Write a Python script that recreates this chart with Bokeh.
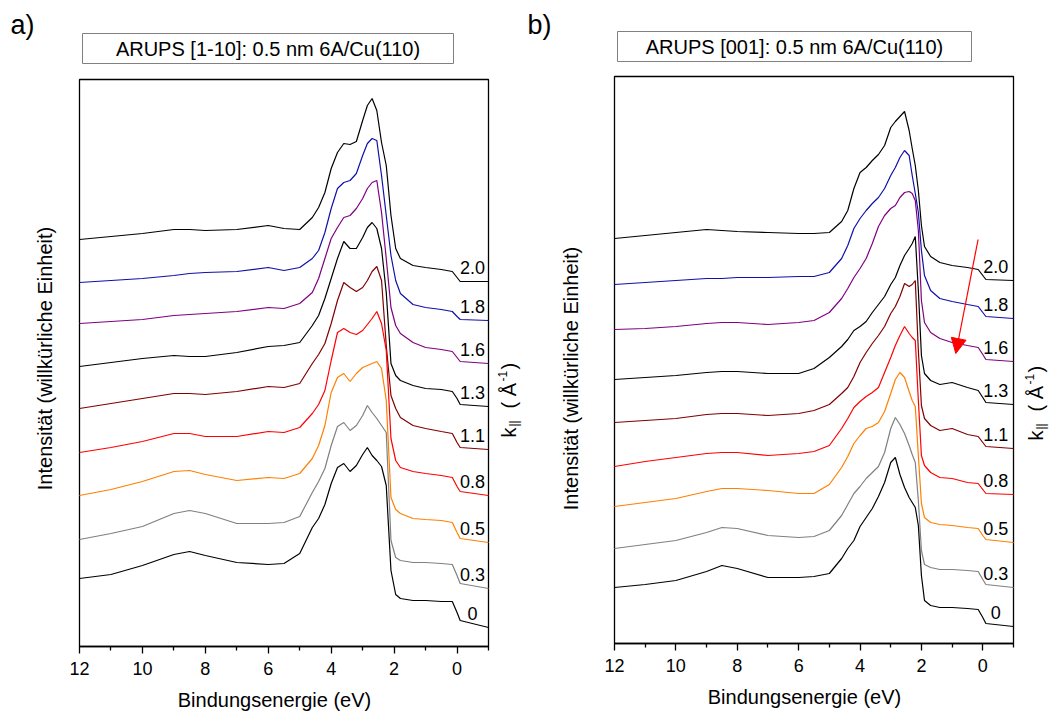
import math
from bokeh.plotting import figure
from bokeh.models import Range1d, FixedTicker, LinearAxis, Arrow, NormalHead
from bokeh.embed import file_html
from bokeh.resources import INLINE
from bokeh.core.properties import value

FONT = "Liberation Sans"

# k_parallel values (labels of the stacked spectra, top to bottom)
K_LABELS = ["2.0", "1.8", "1.6", "1.3", "1.1", "0.8", "0.5", "0.3", "0"]
COLORS = ["#000000", "#1010a8", "#800080", "#000000", "#800000",
          "#ff0000", "#ff8000", "#808080", "#000000"]

# ---------------- panel a) ARUPS [1-10] ----------------
E_A = [12, 11, 10, 9, 8.5, 8, 7, 6, 5.5, 5.0, 4.6, 4.4, 4.2, 4.0, 3.8, 3.6, 3.4,
       3.2, 3.0, 2.85, 2.7, 2.55, 2.4, 2.25, 2.1, 1.95, 1.8, 1.4, 1.0, 0.5, 0.15,
       0.0, -0.1, -1.0]
A_20 = [407, 410, 413, 417, 417, 416, 417, 421, 418, 417, 429, 439, 454, 478, 494, 503, 502,
        505, 526, 541, 548, 536, 504, 481, 431, 398, 388, 381, 379, 377, 375, 369, 365, 365]
A_18 = [364, 366, 368, 371, 373, 374, 375, 379, 376, 379, 388, 396, 414, 438, 458, 464, 466,
        473, 491, 503, 508, 506, 471, 431, 391, 366, 353, 342, 339, 337, 335, 330, 327, 326]
A_16 = [323, 325, 327, 331, 332, 333, 335, 339, 338, 343, 354, 368, 388, 408, 419, 429, 431,
        438, 448, 458, 464, 466, 434, 388, 339, 321, 313, 304, 299, 297, 295, 289, 285, 283]
A_13 = [280, 284, 288, 291, 290, 290, 294, 300, 301, 304, 321, 331, 348, 368, 388, 405, 398,
        398, 409, 419, 424, 418, 398, 354, 283, 271, 266, 261, 258, 257, 255, 248, 242, 240]
A_11 = [238, 243, 248, 253, 253, 252, 255, 260, 259, 263, 283, 292, 303, 323, 346, 364, 359,
        355, 359, 366, 375, 380, 366, 301, 251, 238, 229, 221, 218, 215, 213, 204, 199, 197]
A_08 = [194, 199, 205, 213, 213, 210, 210, 215, 214, 219, 233, 242, 256, 286, 314, 318, 314,
        312, 316, 322, 328, 335, 323, 296, 208, 186, 179, 175, 173, 171, 169, 160, 155, 151]
A_05 = [151, 157, 165, 175, 176, 172, 166, 169, 168, 173, 188, 201, 221, 254, 269, 273, 265,
        273, 279, 281, 283, 285, 278, 246, 149, 137, 133, 128, 127, 126, 124, 114, 108, 104]
A_03 = [107, 113, 120, 133, 136, 133, 123, 123, 124, 130, 154, 165, 178, 201, 220, 224, 216,
        221, 231, 241, 234, 228, 221, 214, 106, 89, 86, 84, 84, 83, 82, 71, 63, 58]
A_00 = [68, 72, 81, 92, 95, 91, 84, 82, 83, 93, 119, 128, 142, 163, 179, 183, 175,
        181, 192, 199, 191, 186, 180, 161, 76, 52, 48, 46, 46, 45, 45, 34, 26, 19]

# ---------------- panel b) ARUPS [001] ----------------
E_B = [12, 11, 10, 9, 8.5, 8, 7, 6, 5.5, 5.0, 4.6, 4.4, 4.2, 4.0, 3.8, 3.6, 3.4, 3.2,
       3.0, 2.85, 2.7, 2.55, 2.4, 2.3, 2.2, 2.1, 2.0, 1.9, 1.7, 1.4, 1.0, 0.5, 0.15,
       0.0, -0.1, -1.0]
B_20 = [405, 408, 411, 414, 413, 412, 411, 410, 410, 411, 422, 433, 455, 471, 476, 483, 489, 498,
        516, 522, 527, 532, 513, 495, 478, 453, 418, 397, 387, 381, 378, 376, 374, 368, 364, 363]
B_18 = [359, 361, 363, 365, 365, 366, 366, 367, 367, 371, 385, 398, 415, 425, 433, 440, 446, 455,
        468, 476, 486, 493, 488, 468, 450, 431, 393, 368, 353, 345, 342, 339, 337, 331, 327, 325]
B_16 = [314, 315, 317, 320, 321, 321, 319, 321, 323, 331, 345, 355, 366, 375, 385, 400, 417, 428,
        435, 438, 446, 451, 452, 450, 443, 413, 343, 321, 311, 305, 301, 298, 296, 289, 284, 282]
B_13 = [264, 266, 268, 271, 272, 272, 270, 270, 275, 286, 297, 304, 313, 317, 322, 331, 339, 347,
        359, 366, 378, 388, 395, 400, 407, 353, 288, 270, 263, 259, 261, 256, 253, 246, 241, 239]
B_11 = [221, 223, 225, 229, 230, 230, 228, 230, 233, 239, 250, 256, 267, 281, 291, 300, 308, 317,
        330, 337, 347, 360, 357, 359, 363, 293, 238, 225, 218, 213, 215, 209, 207, 201, 197, 195]
B_08 = [177, 182, 186, 190, 191, 191, 188, 190, 192, 198, 215, 225, 236, 242, 247, 251, 256, 271,
        286, 298, 308, 317, 310, 306, 303, 243, 188, 178, 171, 166, 165, 161, 160, 154, 150, 149]
B_05 = [137, 141, 145, 152, 155, 155, 153, 150, 150, 159, 176, 187, 200, 208, 215, 217, 221, 232,
        250, 264, 271, 266, 252, 243, 237, 188, 140, 126, 121, 119, 118, 116, 115, 108, 104, 101]
B_03 = [95, 99, 103, 111, 116, 115, 108, 106, 107, 113, 128, 139, 150, 157, 165, 171, 177, 191,
        215, 226, 219, 210, 198, 189, 181, 143, 93, 79, 76, 74, 74, 73, 72, 64, 59, 56]
B_00 = [56, 59, 63, 72, 78, 75, 66, 66, 67, 70, 85, 95, 103, 117, 126, 135, 147, 161,
        181, 186, 169, 156, 146, 141, 136, 118, 68, 43, 38, 36, 36, 35, 34, 26, 20, 17]

SERIES_A = [A_20, A_18, A_16, A_13, A_11, A_08, A_05, A_03, A_00]
SERIES_B = [B_20, B_18, B_16, B_13, B_11, B_08, B_05, B_03, B_00]

TITLE_A = "ARUPS [1-10]: 0.5 nm 6A/Cu(110)"
TITLE_B = "ARUPS [001]: 0.5 nm 6A/Cu(110)"
YLABEL = "Intensität (willkürliche Einheit)"
XLABEL = "Bindungsenergie (eV)"

E_MAX, E_MIN = 12, -1
I_MAX = 567

# ---------------- canvas / layout (pixels) ----------------
W, H = 1050, 712
# panel frames: left, right, top, bottom (canvas pixels)
FRAME_A = (79, 488, 79, 646)
FRAME_B = (614, 1013, 76, 643)


def energy_range(frame):
    left, right, top, bottom = frame
    s = (right - left) / (E_MAX - E_MIN)
    return Range1d(E_MAX + left / s, E_MAX - (W - left) / s)


def intensity_range(frame):
    left, right, top, bottom = frame
    s = (bottom - top) / I_MAX
    return Range1d(-(H - bottom) / s, bottom / s)


p = figure(width=W, height=H, x_range=Range1d(0, W), y_range=Range1d(H, 0),
           output_backend="svg", toolbar_location=None, title=None,
           x_axis_location=None, y_axis_location=None,
           min_border=0, min_border_left=0, min_border_right=0,
           min_border_top=0, min_border_bottom=0)
p.outline_line_color = None
p.background_fill_color = "white"
p.border_fill_color = "white"
p.xgrid.visible = False
p.ygrid.visible = False
p.extra_x_ranges = {"a": energy_range(FRAME_A), "b": energy_range(FRAME_B)}
p.extra_y_ranges = {"ya": intensity_range(FRAME_A), "yb": intensity_range(FRAME_B)}


def txt(x, y, text, size, align="center", angle=0.0):
    p.text(x=[x], y=[y], text=[text], text_font=value(FONT),
           text_font_size=f"{size}px", text_color="black",
           text_align=align, text_baseline="middle", angle=angle)


def k_label(xm, ys):
    # rotated label "k|| ( Å-1)" with sub-/superscript pieces; xm = middle line
    up = math.pi / 2
    txt(xm, ys, "k", 20, "left", up)
    txt(xm + 5, ys - 11, "||", 12, "left", up)
    txt(xm, ys - 29, "( Å", 20, "left", up)
    txt(xm - 6, ys - 56, "-1", 12, "left", up)
    txt(xm, ys - 68, ")", 20, "left", up)


def panel(E, series, xr, yr, label_x):
    # frame
    p.quad(left=[E_MIN], right=[E_MAX], bottom=[0], top=[I_MAX],
           fill_color=None, line_color="black", line_width=1.3,
           x_range_name=xr, y_range_name=yr)
    # spectra
    for vals, col in zip(series, COLORS):
        p.line(E, vals, line_color=col, line_width=1.2,
               x_range_name=xr, y_range_name=yr)
    # k labels
    ends = [vals[-1] + 14 for vals in series]
    p.text(x=[label_x] * len(K_LABELS), y=ends, text=K_LABELS,
           text_font=value(FONT), text_font_size="18px", text_color="black",
           text_align="center", text_baseline="middle",
           x_range_name=xr, y_range_name=yr)
    # x axis
    ax = LinearAxis(x_range_name=xr, y_range_name=yr, fixed_location=0,
                    bounds=(E_MIN, E_MAX),
                    ticker=FixedTicker(ticks=[12, 10, 8, 6, 4, 2, 0],
                                       minor_ticks=[11, 9, 7, 5, 3, 1, -1]))
    ax.major_label_text_font = FONT
    ax.major_label_text_font_size = "18px"
    ax.major_label_text_color = "black"
    ax.major_label_standoff = 8
    ax.axis_line_color = "black"
    ax.axis_line_width = 1.3
    ax.major_tick_line_color = "black"
    ax.major_tick_line_width = 1.3
    ax.minor_tick_line_color = "black"
    ax.minor_tick_line_width = 1.3
    ax.major_tick_in = 0
    ax.major_tick_out = 7
    ax.minor_tick_in = 0
    ax.minor_tick_out = 4
    p.add_layout(ax, "below")


panel(E_A, SERIES_A, "a", "ya", -0.49)
panel(E_B, SERIES_B, "b", "yb", -0.42)

# title boxes
p.quad(left=[82, 617], right=[453, 971], top=[33, 31], bottom=[63, 61],
       fill_color="white", line_color="#808080", line_width=1)
txt(267.5, 48, TITLE_A, 20)
txt(794, 46, TITLE_B, 20)

# panel letters
txt(10, 24, "a)", 27, "left")
txt(527, 24, "b)", 27, "left")

# axis titles
txt(44, 358, YLABEL, 20, angle=math.pi / 2)
txt(570, 378, YLABEL, 20, angle=math.pi / 2)
txt(274, 699, XLABEL, 20)
txt(804, 696, XLABEL, 20)
k_label(508, 437)
k_label(1035, 440)

# red arrow in panel b
p.add_layout(Arrow(end=NormalHead(size=15, fill_color="red", line_color="red",
                                  line_width=1),
                   x_start=0.154, y_start=404, x_end=0.88, y_end=290,
                   line_color="red", line_width=1.2,
                   x_range_name="b", y_range_name="yb"))

open("out.html", "w").write(file_html(p, INLINE))
